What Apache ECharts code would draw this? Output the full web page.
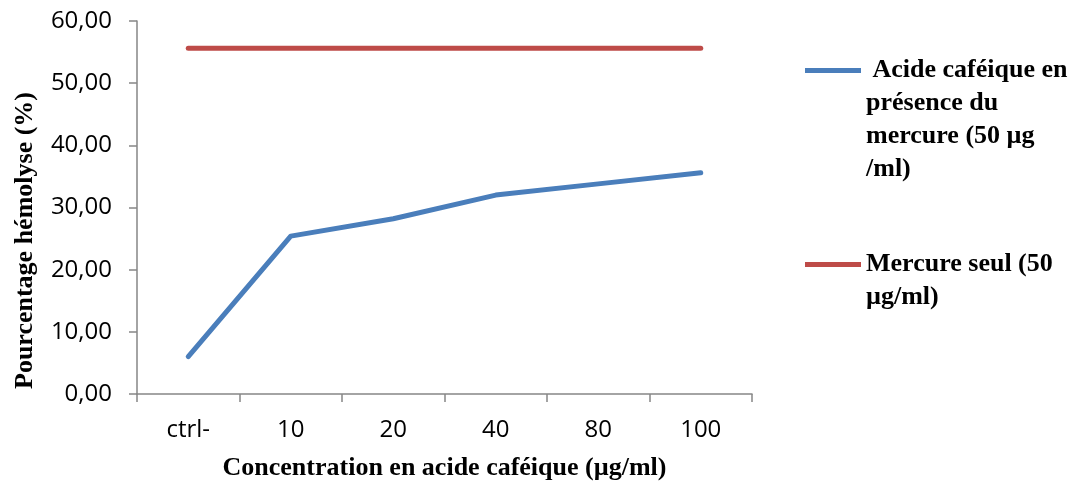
<!DOCTYPE html>
<html>
<head>
<meta charset="utf-8">
<script src="https://cdn.jsdelivr.net/npm/echarts@6/dist/echarts.min.js"></script>
<style>html,body{margin:0;padding:0;background:#fff}#c{width:1076px;height:487px}</style>
</head>
<body>
<div id="c"></div>
<script>
const categories = ['ctrl-', '10', '20', '40', '80', '100'];
const acideValues = [6.0, 25.4, 28.2, 32.0, 33.8, 35.6];
const mercureValues = [55.6, 55.6, 55.6, 55.6, 55.6, 55.6];
const yTickLabels = ['0,00', '10,00', '20,00', '30,00', '40,00', '50,00', '60,00'];
const seriesNames = ['Acide caféique en présence du mercure (50 µg /ml)', 'Mercure seul (50 µg/ml)'];
const legendLines = [[' Acide caféique en', 'présence du', 'mercure (50 µg', '/ml)'], ['Mercure seul (50', 'µg/ml)']];

const serif = '"Liberation Serif", "Times New Roman", serif';
const sans = '"Open Sans", "Liberation Sans", sans-serif';
const LH = 33;
const axisColor = '#868686';

function legendFor(i, iconY) {
  const n = legendLines[i].length;
  const total = (2 * n - 1) * LH;
  // blank lines before the text so that the first text line sits level with the icon
  const lines = new Array(n - 1).fill('').concat(legendLines[i]);
  return {
    show: true, orient: 'vertical', left: 805, top: iconY - total / 2 + 2.5, padding: 0,
    data: [seriesNames[i]], icon: 'rect', itemWidth: 56, itemHeight: 5, itemGap: 0,
    selectedMode: false,
    formatter: () => lines.join('\n'),
    textStyle: { fontFamily: serif, fontWeight: 'bold', fontSize: 26, color: '#000', lineHeight: LH }
  };
}

const chart = echarts.init(document.getElementById('c'), null, { renderer: 'canvas' });
chart.setOption({
  animation: false,
  backgroundColor: '#fff',
  grid: { left: 137, right: 324, top: 21, bottom: 93, containLabel: false },
  legend: [legendFor(0, 68), legendFor(1, 262)],
  xAxis: {
    type: 'category', data: categories, boundaryGap: true,
    name: 'Concentration en acide caféique (µg/ml)', nameLocation: 'middle', nameGap: 61,
    nameTextStyle: { fontFamily: serif, fontWeight: 'bold', fontSize: 26, color: '#000' },
    axisLine: { lineStyle: { color: axisColor, width: 1.5 } },
    axisTick: { show: true, length: 8, inside: false, alignWithLabel: false, lineStyle: { color: axisColor, width: 1.5 } },
    axisLabel: { fontFamily: sans, fontSize: 24, color: '#000', margin: 24 },
    splitLine: { show: false }
  },
  yAxis: {
    type: 'value', min: 0, max: 60, interval: 10,
    name: 'Pourcentage hémolyse (%)', nameLocation: 'middle', nameGap: 99,
    nameTextStyle: { fontFamily: serif, fontWeight: 'bold', fontSize: 26, color: '#000', padding: [0, 66, 0, 0] },
    axisLine: { show: true, lineStyle: { color: axisColor, width: 1.5 } },
    axisTick: { show: true, length: 8, lineStyle: { color: axisColor, width: 1.5 } },
    axisLabel: { fontFamily: sans, fontSize: 24, color: '#000', margin: 25, formatter: v => yTickLabels[Math.round(v / 10)] },
    splitLine: { show: false }
  },
  series: [
    { name: seriesNames[0], type: 'line', data: acideValues, showSymbol: false, symbol: 'none',
      lineStyle: { color: '#4a7ebb', width: 5, cap: 'round', join: 'round' }, itemStyle: { color: '#4a7ebb' } },
    { name: seriesNames[1], type: 'line', data: mercureValues, showSymbol: false, symbol: 'none',
      lineStyle: { color: '#be4b48', width: 5, cap: 'round', join: 'round' }, itemStyle: { color: '#be4b48' } }
  ]
});
</script>
</body>
</html>
